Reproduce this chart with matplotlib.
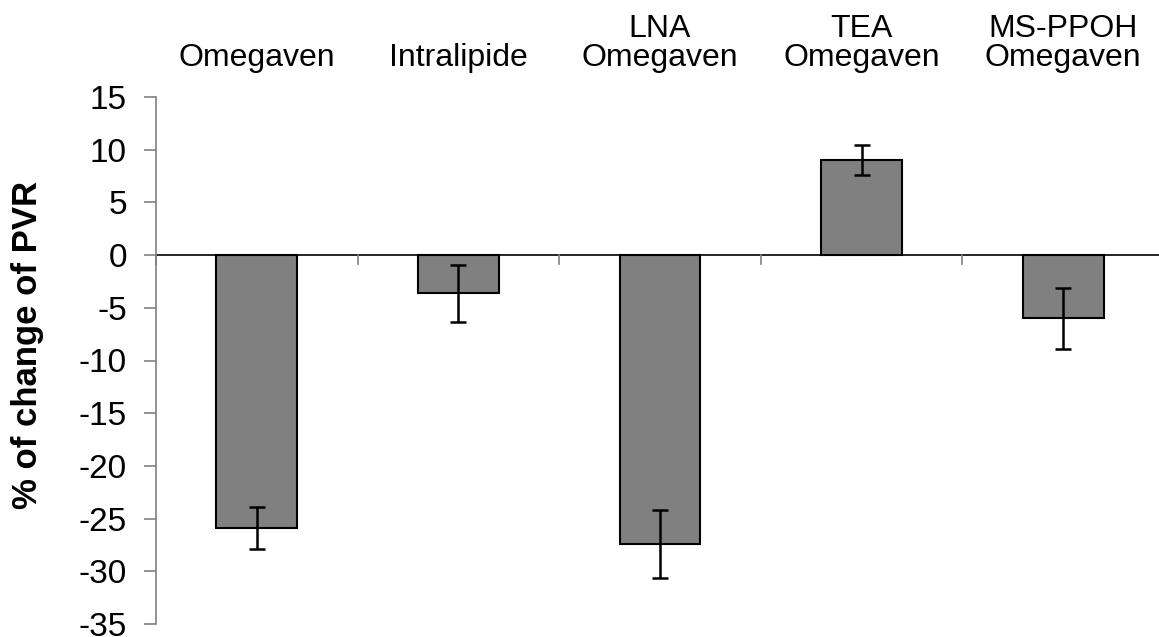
import numpy as np
import matplotlib
matplotlib.use("Agg")
import matplotlib.pyplot as plt

plt.rcParams['font.family'] = ['Liberation Sans', 'DejaVu Sans']

groups = ['Omegaven', 'Intralipide', 'LNA\nOmegaven', 'TEA\nOmegaven', 'MS-PPOH\nOmegaven']
change = [-25.9, -3.6, -27.4, 9.0, -6.0]
sem = [2.0, 2.7, 3.2, 1.4, 2.9]
yticks = [15, 10, 5, 0, -5, -10, -15, -20, -25, -30, -35]

fig = plt.figure(figsize=(11.59, 6.37), dpi=100)
ax = fig.add_axes([156/1159, 1-624/637, 1008/1159, 527/637])

x = np.arange(len(groups))
ax.bar(x, change, width=0.40, color='#808080', edgecolor='black', linewidth=1.5, zorder=2)
ax.errorbar(x, change, yerr=sem, fmt='none', ecolor='black', elinewidth=1.8,
            capsize=6, capthick=1.8, zorder=3)

ax.set_xlim(-0.5, len(groups) - 0.5)
ax.set_ylim(-35, 15)
ax.set_yticks(yticks)
ax.set_yticklabels([str(t) for t in yticks])

# x axis drawn at zero, ticks at category boundaries
ax.axhline(0, color='black', linewidth=1.2, zorder=1)
for b in np.arange(len(groups) + 1) - 0.5:
    ax.plot([b, b], [0, -0.85], color='#808080', linewidth=1.2, clip_on=False, zorder=1)
ax.set_xticks([])

for s in ['top', 'right', 'bottom']:
    ax.spines[s].set_visible(False)
ax.spines['left'].set_color('#808080')
ax.spines['left'].set_linewidth(1.2)
ax.tick_params(axis='y', direction='out', length=9, width=1.2, color='#808080',
               labelsize=24, pad=12)

# category labels above the plot
for i, g in enumerate(groups):
    ax.annotate(g, (i, 1.0), xycoords=ax.get_xaxis_transform(), xytext=(0, 17),
                textcoords='offset points', ha='center', va='bottom',
                fontsize=23, linespacing=0.97)

fig.text(28/1159, 1-345/637, '% of change of PVR', rotation=90, ha='center', va='center',
         fontsize=25, fontweight='bold')

fig.savefig('out.png', dpi=100)
